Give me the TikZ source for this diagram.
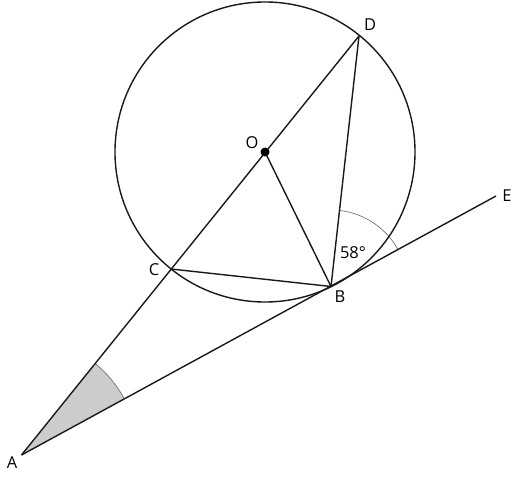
\documentclass[tikz,border=0pt]{standalone}
\usepackage{fontspec}
\setmainfont{Open Sans}
\usetikzlibrary{calc}
\begin{document}
\begin{tikzpicture}[x=1bp,y=-1bp,
  seg/.style={line width=1.4bp,black!90},
  lbl/.style={font=\fontsize{16.5}{16.5}\selectfont,inner sep=0pt,text=black},
  anglearc/.style={line width=0.6bp,black!60}]
\useasboundingbox (0,0) rectangle (516,477);
\coordinate (O) at (265,152);
\coordinate (A) at (21.5,455);
\coordinate (B) at (331,286.5);
\coordinate (C) at (171,269);
\coordinate (D) at (359,36);
\coordinate (E) at (496,196);
% shaded angle at A
\fill[black!20] (A) -- ($(A)!117.5bp!(D)$) arc[start angle={atan2(-91,74.3)},end angle={atan2(-55.7,103.3)},radius=117.5] -- cycle;
\draw[anglearc] ($(A)!117.5bp!(D)$) arc[start angle={atan2(-91,74.3)},end angle={atan2(-55.7,103.3)},radius=117.5];
% angle 58 at B
\draw[anglearc] ($(B)!76.5bp!(D)$) arc[start angle={atan2(-250.5,28)},end angle={atan2(-90.5,165)},radius=76.5];
\draw[seg] (O) circle[radius=150];
\draw[seg] (A) -- (D);
\draw[seg] (A) -- (E);
\draw[seg] (C) -- (B);
\draw[seg] (O) -- (B);
\draw[seg] (D) -- (B);
\fill[black] (O) circle[radius=4.5];
\node[lbl] (lA) at (12,463) {A};
\node[lbl] (lB) at (340,297) {B};
\node[lbl] (lC) at (154,270) {C};
\node[lbl] (lD) at (370,25) {D};
\node[lbl] (lE) at (507,195.5) {E};
\node[lbl] (lO) at (252,143) {O};
\node[lbl] (l58) at (353,253) {58°};
\end{tikzpicture}
\end{document}
